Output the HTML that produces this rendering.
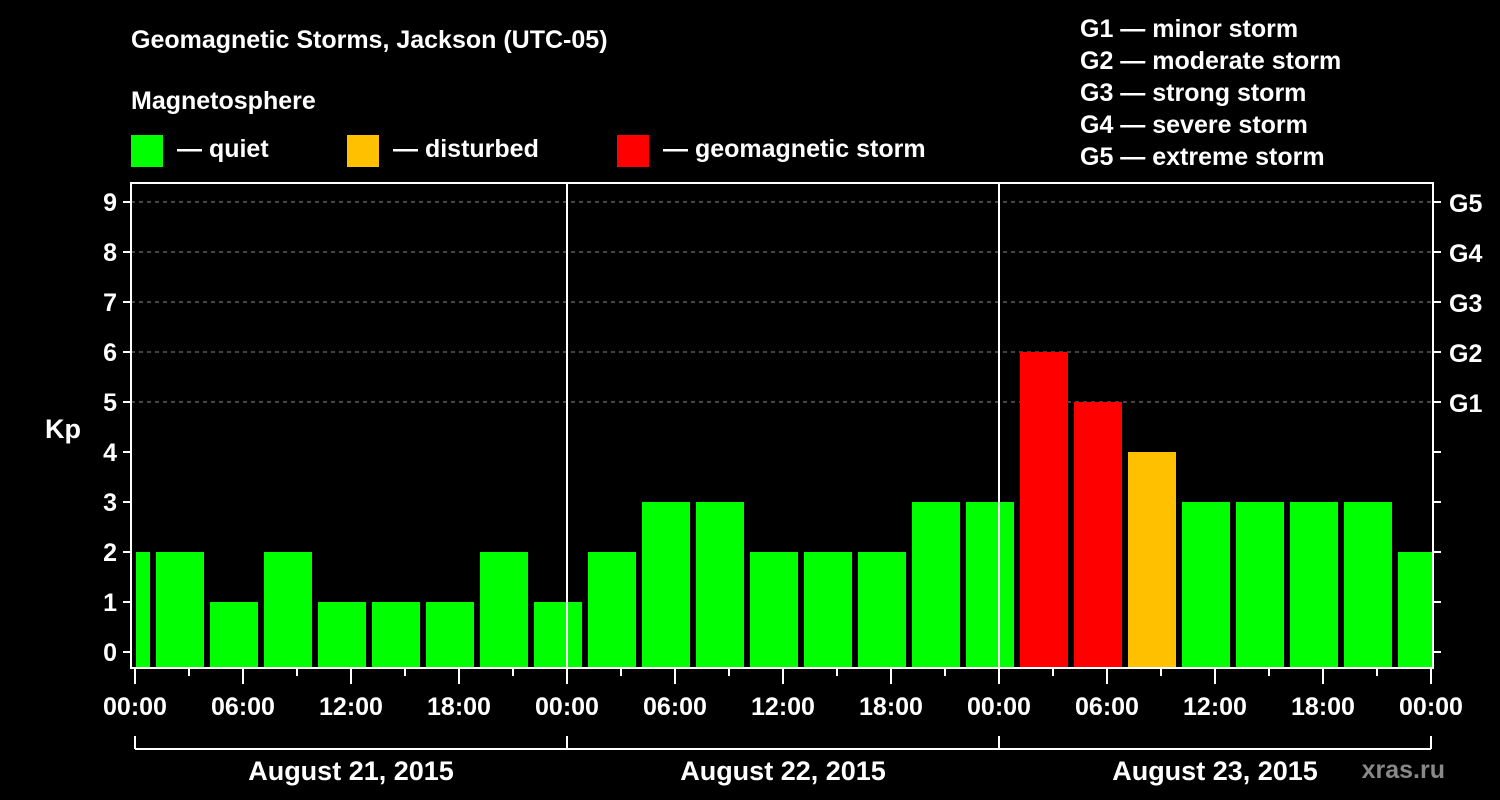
<!DOCTYPE html>
<html><head><meta charset="utf-8"><style>
html,body{margin:0;padding:0;background:#000;}
svg{display:block;font-family:"Liberation Sans",Arial,sans-serif;font-weight:bold;}
</style></head><body>
<svg id="chart" width="1500" height="800" viewBox="0 0 1500 800">
<rect x="0" y="0" width="1500" height="800" fill="#000"/>
<text x="131" y="48" fill="#fff" font-size="25">Geomagnetic Storms, Jackson (UTC-05)</text>
<text x="131" y="109" fill="#fff" font-size="25">Magnetosphere</text>
<g><rect x="131" y="135" width="32" height="32" fill="#00ff00"/><text x="177" y="157" fill="#fff" font-size="25">— quiet</text></g>
<g><rect x="347" y="135" width="32" height="32" fill="#ffc000"/><text x="393" y="157" fill="#fff" font-size="25">— disturbed</text></g>
<g><rect x="617" y="135" width="32" height="32" fill="#ff0000"/><text x="663" y="157" fill="#fff" font-size="25">— geomagnetic storm</text></g>
<g fill="#fff" font-size="25">
<text x="1080" y="37">G1 — minor storm</text>
<text x="1080" y="69">G2 — moderate storm</text>
<text x="1080" y="101">G3 — strong storm</text>
<text x="1080" y="133">G4 — severe storm</text>
<text x="1080" y="165">G5 — extreme storm</text>
</g>
<text x="63" y="438" fill="#fff" font-size="27" text-anchor="middle">Kp</text>
<text x="1445" y="778" fill="#888" font-size="25" text-anchor="end">xras.ru</text>
<g id="grid"></g><g id="bars"></g><g id="axes"></g>
</svg>
<script>
const kpValues=[2,2,1,2,1,1,1,2,1,2,3,3,2,2,2,3,3,6,5,4,3,3,3,3,2];
const yTicks=[0,1,2,3,4,5,6,7,8,9];
const gLabels=["","","","","","G1","G2","G3","G4","G5"];
const xTickLabels=["00:00","06:00","12:00","18:00","00:00","06:00","12:00","18:00","00:00","06:00","12:00","18:00","00:00"];
const dayLabels=["August 21, 2015","August 22, 2015","August 23, 2015"];
const NS="http://www.w3.org/2000/svg";
const L=131,R=1433,T=183,B=668;
const x=h=>135+18*h;
const y=v=>652-50*v;
function mk(p,t,a){const e=document.createElementNS(NS,t);for(const k in a)e.setAttribute(k,a[k]);p.appendChild(e);return e;}
const grid=document.getElementById('grid'),bars=document.getElementById('bars'),axes=document.getElementById('axes');
function col(v){return v>=5?"#ff0000":(v>=4?"#ffc000":"#00ff00");}
yTicks.forEach(v=>{
  if(v>=5){const g=mk(grid,'line',{x1:L,x2:R,y1:y(v),y2:y(v),stroke:'#888','stroke-width':1,'stroke-dasharray':'4,4'});
  
  }
  mk(axes,'line',{x1:L-8,x2:L,y1:y(v),y2:y(v),stroke:'#fff','stroke-width':2});
  mk(axes,'line',{x1:R,x2:R+8,y1:y(v),y2:y(v),stroke:'#fff','stroke-width':2});
  const t=mk(axes,'text',{x:L-14,y:y(v)+9,fill:'#fff','font-size':25,'text-anchor':'end'});t.textContent=v;
  
  
  if(gLabels[v]){const g=mk(axes,'text',{x:1449,y:y(v)+10,fill:'#fff','font-size':25});g.textContent=gLabels[v];
  
  }
});
kpValues.forEach((v,i)=>{
  let x0=x(-2+3*i)+3,x1=x0+48;
  x0=Math.max(x0,L+5);x1=Math.min(x1,R-1);
  const r=mk(bars,'rect',{x:x0,y:y(v),width:x1-x0,height:B-y(v),fill:col(v)});
  
  
});
[1,2].forEach(d=>{mk(axes,'line',{x1:x(24*d),x2:x(24*d),y1:T,y2:B,stroke:'#fff','stroke-width':2});});
mk(axes,'rect',{x:L,y:T,width:R-L,height:B-T,fill:'none',stroke:'#fff','stroke-width':2});
for(let h=0;h<=72;h+=3){const major=h%6===0;mk(axes,'line',{x1:x(h),x2:x(h),y1:B,y2:B+(major?16:8),stroke:'#fff','stroke-width':2});}
xTickLabels.forEach((s,i)=>{const t=mk(axes,'text',{x:x(6*i),y:715,fill:'#fff','font-size':25,'text-anchor':'middle'});t.textContent=s;
  
  });
mk(axes,'line',{x1:x(0),x2:x(72),y1:749,y2:749,stroke:'#fff','stroke-width':2});
for(let d=0;d<=3;d++)mk(axes,'line',{x1:x(24*d),x2:x(24*d),y1:736,y2:749,stroke:'#fff','stroke-width':2});
dayLabels.forEach((s,i)=>{const t=mk(axes,'text',{x:x(24*i+12),y:780,fill:'#fff','font-size':27,'text-anchor':'middle'});t.textContent=s;
  
  });
</script>
</body></html>
